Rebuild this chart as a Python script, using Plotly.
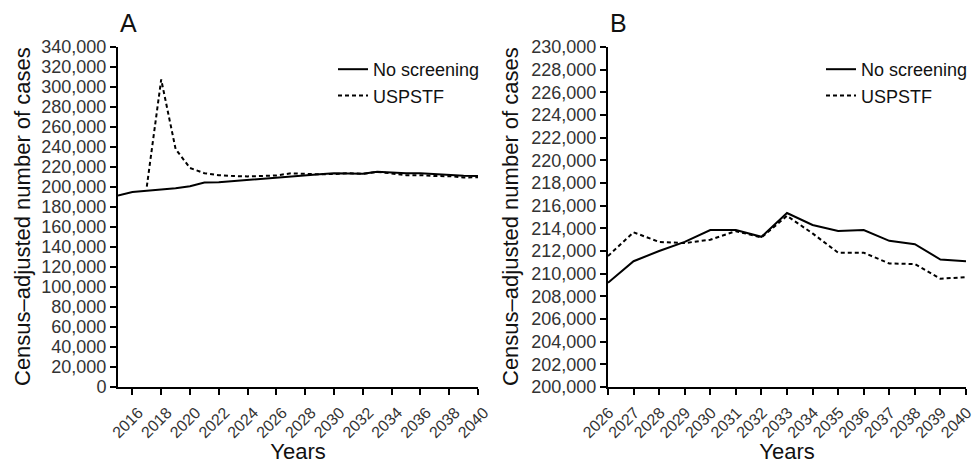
import plotly.graph_objects as go

years = list(range(2015, 2041))
no_screening = [191500, 195000, 196300, 197500, 198800, 200800, 204500, 204700,
                205900, 207000, 208600, 209200, 211100, 212000, 212800, 213850,
                213850, 213250, 215350, 214300, 213770, 213850, 212900, 212600,
                211250, 211100]
uspstf_years = list(range(2017, 2041))
uspstf = [200300, 307500, 238000, 219000, 213800, 211800, 211000, 210600,
          211000, 211550, 213650, 212800, 212700, 213000, 213750, 213200,
          215100, 213550, 211850, 211850, 210900, 210850, 209550, 209700]

b_start = 2026
b_years = [y for y in years if y >= b_start]
b_no = [v for y, v in zip(years, no_screening) if y >= b_start]
b_us_years = [y for y in uspstf_years if y >= b_start]
b_us = [v for y, v in zip(uspstf_years, uspstf) if y >= b_start]

FONT = "Liberation Sans, Arial, Helvetica, sans-serif"
W, H = 974, 464
ML, MR, MT, MB = 118, 8, 47, 77
PW = W - ML - MR

fig = go.Figure()
fig.add_trace(go.Scatter(x=years, y=no_screening, mode="lines", name="No screening",
                         line=dict(color="black", width=2), xaxis="x", yaxis="y",
                         legend="legend", legendgroup="a1"))
fig.add_trace(go.Scatter(x=uspstf_years, y=uspstf, mode="lines", name="USPSTF",
                         line=dict(color="black", width=2, dash="4px,3px"), xaxis="x", yaxis="y",
                         legend="legend", legendgroup="a2"))
fig.add_trace(go.Scatter(x=b_years, y=b_no, mode="lines", name="No screening",
                         line=dict(color="black", width=2), xaxis="x2", yaxis="y2",
                         legend="legend2", legendgroup="b1"))
fig.add_trace(go.Scatter(x=b_us_years, y=b_us, mode="lines", name="USPSTF",
                         line=dict(color="black", width=2, dash="4px,3px"), xaxis="x2", yaxis="y2",
                         legend="legend2", legendgroup="b2"))

ytickfont = dict(family=FONT, size=18, color="#333333")
xtickfont = dict(family=FONT, size=16, color="#333333")
titlefont = dict(family=FONT, size=22, color="#111111")

common_x = dict(showgrid=False, zeroline=False, showline=True, linecolor="black", linewidth=2,
                ticks="outside", ticklen=6, tickwidth=2, tickcolor="black", tickangle=-45,
                tickfont=xtickfont, automargin=False, ticklabeloverflow="allow",
                ticklabelstandoff=2,
                title=dict(text="Years", font=titlefont, standoff=8))
common_y = dict(showgrid=False, zeroline=False, showline=True, linecolor="black", linewidth=2,
                ticks="outside", ticklen=6, tickwidth=2, tickcolor="black",
                tickfont=ytickfont, automargin=False, tickformat=",d",
                ticklabeloverflow="allow")

a_dom = [0, 360 / PW]
b_dom = [(608 - ML) / PW, 1]

ytitle = "Census–adjusted number of cases"
fig.update_layout(
    width=W, height=H,
    margin=dict(l=ML, r=MR, t=MT, b=MB, autoexpand=False),
    paper_bgcolor="white", plot_bgcolor="white",
    xaxis=dict(common_x, domain=a_dom, range=[2015, 2040], tick0=2016, dtick=2, anchor="y",
               ticklabelshift=6),
    yaxis=dict(common_y, domain=[0, 1], range=[0, 340000], dtick=20000, anchor="x"),
    xaxis2=dict(common_x, domain=b_dom, range=[2026, 2040], tick0=2026, dtick=1, anchor="y2",
                ticklabelshift=1),
    yaxis2=dict(common_y, domain=[0, 1], range=[200000, 230000], dtick=2000, anchor="x2"),
    legend=dict(xref="container", yref="container", x=333 / W, y=1 - 51 / H,
                xanchor="left", yanchor="top", font=dict(family=FONT, size=18, color="#111111"),
                bgcolor="rgba(0,0,0,0)", tracegroupgap=0),
    legend2=dict(xref="container", yref="container", x=821 / W, y=1 - 51 / H,
                 xanchor="left", yanchor="top", font=dict(family=FONT, size=18, color="#111111"),
                 bgcolor="rgba(0,0,0,0)", tracegroupgap=0),
    annotations=[
        dict(text="A", xref="x domain", yref="y domain", x=0, y=1, xanchor="left", yanchor="bottom",
             xshift=0, yshift=8, showarrow=False, font=dict(family=FONT, size=25, color="#111111")),
        dict(text="B", xref="x2 domain", yref="y2 domain", x=0, y=1, xanchor="left", yanchor="bottom",
             xshift=0, yshift=8, showarrow=False, font=dict(family=FONT, size=25, color="#111111")),
        dict(text=ytitle, xref="x domain", yref="y domain", x=0, y=0.5, xanchor="center",
             yanchor="middle", xshift=-96, textangle=-90, showarrow=False, font=titlefont),
        dict(text=ytitle, xref="x2 domain", yref="y2 domain", x=0, y=0.5, xanchor="center",
             yanchor="middle", xshift=-98, textangle=-90, showarrow=False, font=titlefont),
    ],
)

fig.write_html("out.html")
